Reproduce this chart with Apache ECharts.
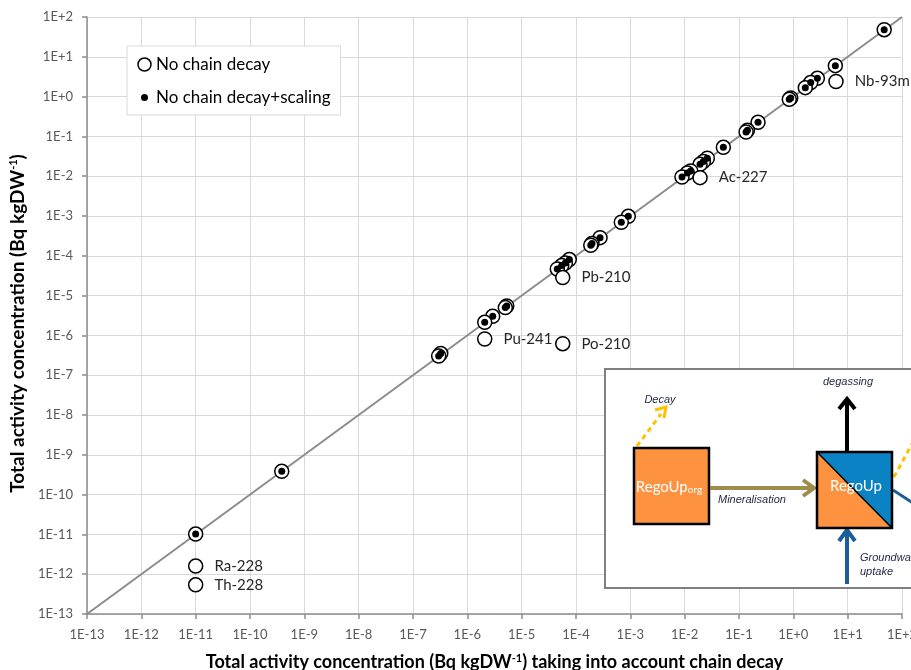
<!DOCTYPE html>
<html>
<head>
<meta charset="utf-8">
<script src="https://cdn.jsdelivr.net/npm/echarts@6/dist/echarts.min.js"></script>
<style>
  html, body { margin: 0; padding: 0; background: #fff; }
  #chart { width: 911px; height: 670px; }
</style>
</head>
<body>
<div id="chart"></div>
<script>
// Activity concentrations (Bq kgDW-1): x = with chain decay, y = without chain decay
const pointsX = [47, 5.93, 2.77, 2.09, 1.66, 0.895, 0.843, 0.224, 0.143, 0.135,
  0.0515, 0.0261, 0.0221, 0.0192, 0.0129, 0.0112, 0.00893,
  9.18e-4, 6.82e-4, 2.77e-4, 1.97e-4, 1.87e-4,
  7.53e-5, 6.37e-5, 5.46e-5, 4.53e-5,
  5.31e-6, 5.0e-6, 2.93e-6, 2.09e-6,
  3.24e-7, 2.97e-7, 3.84e-10, 1.0e-11];
const pointsY = [48, 6.0, 2.88, 2.25, 1.68, 0.923, 0.855, 0.226, 0.142, 0.129,
  0.0532, 0.0282, 0.0233, 0.0199, 0.0135, 0.0120, 0.00955,
  9.82e-4, 6.95e-4, 2.86e-4, 2.03e-4, 1.84e-4,
  8.04e-5, 6.59e-5, 5.68e-5, 4.66e-5,
  5.48e-6, 4.99e-6, 3.02e-6, 2.13e-6,
  3.49e-7, 3.03e-7, 3.85e-10, 1.02e-11];

// Nuclides that fall off the 1:1 line without chain decay
const outlierNames = ['Nb-93m', 'Ac-227', 'Pb-210', 'Pu-241', 'Po-210', 'Ra-228', 'Th-228'];
const outlierX = [6.1, 0.0192, 5.7e-5, 2.09e-6, 5.7e-5, 1.0e-11, 1.0e-11];
const outlierY = [2.4, 0.0092, 2.83e-5, 8.1e-7, 6.2e-7, 1.6e-12, 5.4e-13];

// 1:1 reference line end points
const oneToOne = [1e-13, 1e2];

const tickLabels = ['1E-13', '1E-12', '1E-11', '1E-10', '1E-9', '1E-8', '1E-7', '1E-6',
  '1E-5', '1E-4', '1E-3', '1E-2', '1E-1', '1E+0', '1E+1', '1E+2'];

const seriesNames = ['No chain decay', 'No chain decay+scaling'];

const FONT = 'Lato, "Open Sans", sans-serif';
const tickFmt = v => tickLabels[Math.round(Math.log10(v)) + 13];

const openData = pointsX.map((x, i) => [x, pointsY[i]]).concat(
  outlierNames.map((n, i) => ({
    name: n,
    value: [outlierX[i], outlierY[i]],
    label: { show: true, formatter: n }
  }))
);
const dotData = pointsX.map((x, i) => [x, pointsY[i]]);

function axis(name, isY) {
  const fs = isY ? 19 : 18;
  return {
    type: 'log',
    logBase: 10,
    min: 1e-13,
    max: 1e2,
    interval: 1,
    name: name,
    nameLocation: 'middle',
    nameGap: isY ? 54 : 39,
    nameTextStyle: {
      fontFamily: FONT, fontSize: fs, fontWeight: 'bold', color: '#000',
      padding: isY ? [0, 16, 0, 0] : 0,
      rich: {
        b: { fontFamily: FONT, fontSize: fs, fontWeight: 'bold', color: '#000' },
        sup: { fontFamily: FONT, fontSize: 11, fontWeight: 'bold', color: '#000', verticalAlign: 'top', padding: [0, 0, 8, 0] }
      }
    },
    axisLine: { show: true, lineStyle: { color: '#8c8c8c', width: 1.5 } },
    axisTick: { show: true, length: 5, lineStyle: { color: '#8c8c8c', width: 1.5 } },
    axisLabel: { formatter: tickFmt, fontFamily: FONT, fontSize: 13, color: '#595959', margin: 14, showMaxLabel: true, showMinLabel: true },
    splitLine: { show: true, lineStyle: { color: '#d9d9d9', width: 1 } },
    minorTick: { show: false }
  };
}

const chart = echarts.init(document.getElementById('chart'), null, { renderer: 'canvas' });

const insetText = { fontFamily: '"Liberation Sans", Arial, sans-serif', fontStyle: 'italic', fontSize: 11, fill: '#1f2540' };

chart.setOption({
  animation: false,
  backgroundColor: '#fff',
  grid: { left: 87, right: 9, top: 17, bottom: 56, containLabel: false, outerBoundsMode: 'none' },
  xAxis: axis('{b|Total activity concentration (Bq kgDW}{sup|-1}{b|) taking into account chain decay}', false),
  yAxis: axis('{b|Total activity concentration (Bq kgDW}{sup|-1}{b|)}', true),
  legend: {
    left: 127, top: 46, orient: 'vertical',
    padding: [10, 10, 8, 8], itemGap: 15, itemWidth: 13, itemHeight: 13,
    backgroundColor: '#fff', borderColor: '#d9d9d9', borderWidth: 1,
    textStyle: { fontFamily: FONT, fontSize: 17, color: '#000' },
    data: [
      { name: seriesNames[0], icon: 'circle', itemStyle: { color: '#fff', borderColor: '#000', borderWidth: 1.5 } },
      { name: seriesNames[1], icon: 'circle', itemStyle: { color: '#000', borderColor: '#fff', borderWidth: 6 } }
    ]
  },
  series: [
    {
      type: 'line', silent: true, z: 1,
      data: [[oneToOne[0], oneToOne[0]], [oneToOne[1], oneToOne[1]]],
      symbol: 'none',
      lineStyle: { color: '#8c8c8c', width: 2 }
    },
    {
      name: seriesNames[0], type: 'scatter', z: 2,
      symbol: 'circle', symbolSize: 14,
      itemStyle: { color: '#fff', borderColor: '#000', borderWidth: 1.5, opacity: 1 },
      label: { show: false, position: 'right', distance: 11, fontFamily: FONT, fontSize: 15, color: '#262626' },
      data: openData
    },
    {
      name: seriesNames[1], type: 'scatter', z: 3,
      symbol: 'circle', symbolSize: 7,
      itemStyle: { color: '#000', opacity: 1 },
      data: dotData
    }
  ],
  graphic: {
    elements: [
      // compartment diagram panel
      { type: 'rect', z: 100, shape: { x: 605, y: 369, width: 330, height: 219 },
        style: { fill: '#fff', stroke: '#808080', lineWidth: 2 } },
      // decay from the organic pool
      { type: 'line', z: 101, shape: { x1: 637, y1: 446, x2: 661, y2: 414 },
        style: { stroke: '#FFC000', lineWidth: 3, lineDash: [5, 4] } },
      { type: 'polyline', z: 101, shape: { points: [[655, 410], [666, 407], [664, 418]] },
        style: { stroke: '#FFC000', lineWidth: 3, fill: null } },
      { type: 'text', z: 102, style: Object.assign({ text: 'Decay', x: 660, y: 400, align: 'center', verticalAlign: 'middle' }, insetText) },
      // RegoUp_org box
      { type: 'rect', z: 101, shape: { x: 634, y: 448, width: 75, height: 76 },
        style: { fill: '#FD9240', stroke: '#000', lineWidth: 2.5 } },
      { type: 'text', z: 102, style: {
          text: '{a|RegoUp}{s|org}', x: 669, y: 487, align: 'center', verticalAlign: 'middle',
          rich: {
            a: { fontFamily: FONT, fontSize: 15, fill: '#fff', color: '#fff' },
            s: { fontFamily: FONT, fontSize: 10, fill: '#fff', color: '#fff', verticalAlign: 'bottom', padding: [6, 0, 0, 0] }
          } } },
      // mineralisation
      { type: 'line', z: 101, shape: { x1: 710, y1: 488, x2: 813, y2: 488 },
        style: { stroke: '#9E8C4E', lineWidth: 4 } },
      { type: 'polyline', z: 101, shape: { points: [[803, 480], [814, 488], [803, 496]] },
        style: { stroke: '#9E8C4E', lineWidth: 4, fill: null } },
      { type: 'text', z: 102, style: Object.assign({ text: 'Mineralisation', x: 718, y: 500, align: 'left', verticalAlign: 'middle' }, insetText) },
      // RegoUp box, split diagonally
      { type: 'polygon', z: 101, shape: { points: [[817, 452], [817, 528], [892, 528]] },
        style: { fill: '#FD9240' } },
      { type: 'polygon', z: 101, shape: { points: [[817, 452], [892, 452], [892, 528]] },
        style: { fill: '#0B82C3' } },
      { type: 'line', z: 102, shape: { x1: 817, y1: 452, x2: 892, y2: 528 },
        style: { stroke: '#000', lineWidth: 1.5 } },
      { type: 'rect', z: 102, shape: { x: 817, y: 452, width: 75, height: 76 },
        style: { fill: null, stroke: '#000', lineWidth: 2.5 } },
      { type: 'text', z: 103, style: { text: 'RegoUp', x: 856, y: 486, align: 'center', verticalAlign: 'middle',
          fontFamily: FONT, fontSize: 15, fill: '#fff' } },
      // degassing
      { type: 'line', z: 101, shape: { x1: 847, y1: 451, x2: 847, y2: 400 },
        style: { stroke: '#000', lineWidth: 4 } },
      { type: 'polyline', z: 101, shape: { points: [[839, 409], [847, 399], [855, 409]] },
        style: { stroke: '#000', lineWidth: 4, fill: null } },
      { type: 'text', z: 102, style: Object.assign({ text: 'degassing', x: 848, y: 382, align: 'center', verticalAlign: 'middle' }, insetText) },
      // groundwater uptake
      { type: 'line', z: 101, shape: { x1: 847, y1: 584, x2: 847, y2: 531 },
        style: { stroke: '#1B5E9A', lineWidth: 4 } },
      { type: 'polyline', z: 101, shape: { points: [[839, 541], [847, 530], [855, 541]] },
        style: { stroke: '#1B5E9A', lineWidth: 4, fill: null } },
      { type: 'text', z: 102, style: Object.assign({ text: 'Groundwater\nuptake', x: 860, y: 565, align: 'left', verticalAlign: 'middle', lineHeight: 14 }, insetText) },
      // outgoing fluxes on the right
      { type: 'line', z: 101, shape: { x1: 894, y1: 477, x2: 913, y2: 442 },
        style: { stroke: '#FFC000', lineWidth: 3, lineDash: [5, 4] } },
      { type: 'line', z: 101, shape: { x1: 893, y1: 490, x2: 913, y2: 503 },
        style: { stroke: '#1B5E9A', lineWidth: 3 } }
    ]
  }
});
</script>
</body>
</html>
